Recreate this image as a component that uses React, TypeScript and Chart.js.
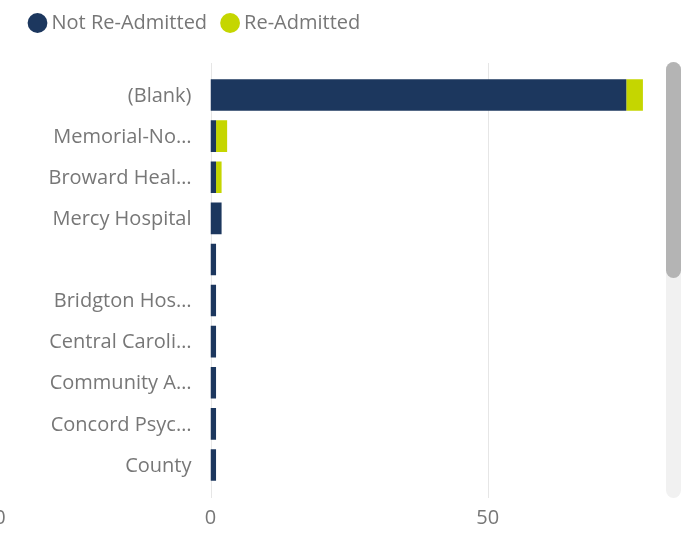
import React, { useEffect, useRef } from "react";
import { Chart, registerables } from "chart.js";

Chart.register(...registerables);

const categories = [
  "(Blank)",
  "Memorial-No…",
  "Broward Heal…",
  "Mercy Hospital",
  "",
  "Bridgton Hos…",
  "Central Caroli…",
  "Community A…",
  "Concord Psyc…",
  "County",
];
const notReadmitted = [75, 1, 1, 2, 1, 1, 1, 1, 1, 1];
const readmitted = [3, 2, 1, 0, 0, 0, 0, 0, 0, 0];
const xTicks = [0, 50];
const seriesNames = ["Not Re-Admitted", "Re-Admitted"];

const DARK = "#1c375e";
const GREEN = "#c5d600";
const TEXT = "#777777";
const FONT = "'Open Sans', sans-serif";

const extendedGrid = {
  id: "extendedGrid",
  afterInit(chart: any) {
    const lg = chart.legend;
    if (lg && !lg.__patched) {
      const orig = lg.fit.bind(lg);
      lg.fit = () => {
        orig();
        lg.height = 80.5;
      };
      lg.__patched = true;
    }
  },
  beforeDatasetsDraw(chart: any) {
    const { ctx } = chart;
    const x = chart.scales.x;
    ctx.save();
    ctx.strokeStyle = "#e6e6e6";
    ctx.lineWidth = 1;
    xTicks.forEach((v) => {
      const px = Math.round(x.getPixelForValue(v)) + 0.5;
      ctx.beginPath();
      ctx.moveTo(px, 63);
      ctx.lineTo(px, 498);
      ctx.stroke();
    });
    ctx.fillStyle = TEXT;
    ctx.font = `20px ${FONT}`;
    ctx.textAlign = "center";
    ctx.textBaseline = "middle";
    ctx.fillText("0", 0, 518);
    ctx.restore();
  },
};

export default function App() {
  const ref = useRef<HTMLCanvasElement>(null);
  useEffect(() => {
    if (!ref.current) return;
    const chart = new Chart(ref.current, {
      type: "bar",
      data: {
        labels: categories,
        datasets: [
          { label: seriesNames[0], data: notReadmitted, backgroundColor: DARK },
          { label: seriesNames[1], data: readmitted, backgroundColor: GREEN },
        ],
      },
      options: {
        indexAxis: "y",
        animation: false,
        responsive: false,
        maintainAspectRatio: false,
        layout: { padding: { left: 14.5, right: 38, top: -6, bottom: 0 } },
        datasets: { bar: { categoryPercentage: 0.77, barPercentage: 1 } },
        plugins: {
          legend: {
            position: "top",
            align: "start",
            labels: {
              usePointStyle: true,
              pointStyle: "circle",
              boxWidth: 8,
              boxHeight: 14,
              padding: 19,
              color: TEXT,
              font: { family: FONT, size: 20 },
            },
          },
          tooltip: { enabled: false },
        },
        scales: {
          x: {
            stacked: true,
            min: 0,
            max: 80,
            afterBuildTicks: (s: any) => {
              s.ticks = xTicks.map((v) => ({ value: v }));
            },
            afterFit: (s: any) => {
              s.height = 48.5;
            },
            grid: { display: false, drawTicks: false },
            border: { display: false },
            ticks: { color: TEXT, font: { family: FONT, size: 20 }, padding: 20.5 },
          },
          y: {
            stacked: true,
            grid: { display: false, drawTicks: false },
            border: { display: false },
            afterFit: (s: any) => {
              s.width = 196;
            },
            ticks: { color: TEXT, font: { family: FONT, size: 20 }, padding: 19, autoSkip: false, labelOffset: 1 },
          },
        },
      },
      plugins: [extendedGrid],
    });
    return () => chart.destroy();
  }, []);

  return (
    <div style={{ position: "fixed", left: 0, top: 0, width: 692, height: 534, background: "#fff" }}>
      <canvas ref={ref} width={692} height={534} style={{ width: 692, height: 534 }} />
      <div style={{ position: "absolute", left: 666, top: 62, width: 15, height: 436, borderRadius: 8, background: "#f1f1f1" }} />
      <div style={{ position: "absolute", left: 666, top: 62, width: 15, height: 216, borderRadius: 8, background: "#b4b4b4" }} />
    </div>
  );
}
